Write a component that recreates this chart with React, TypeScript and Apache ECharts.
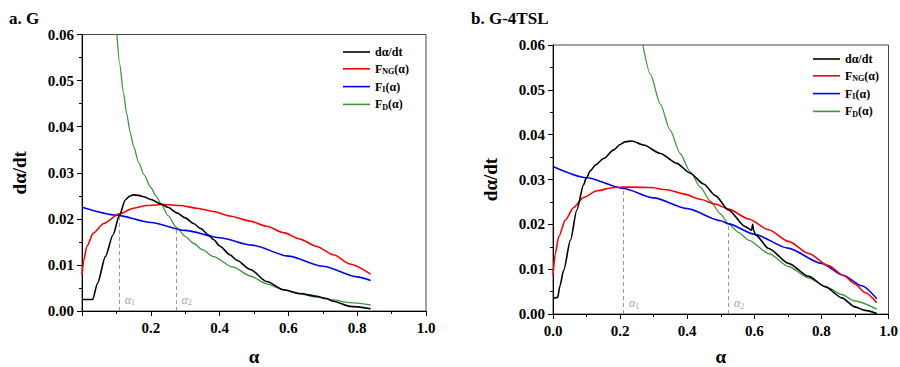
import React, { useEffect, useRef } from "react";
import * as echarts from "echarts";

const FONT = '"Liberation Serif", "Times New Roman", serif';

// ---------- Panel a. G ----------
const blackA: number[][] = [
  [0, 0.0025], [0.031, 0.0025], [0.045, 0.006], [0.068, 0.0118], [0.09, 0.0165], [0.109, 0.0208],
  [0.126, 0.0241], [0.138, 0.0249], [0.15, 0.0252], [0.165, 0.0251], [0.179, 0.0248], [0.2, 0.0242],
  [0.23, 0.0232], [0.25, 0.0225], [0.276, 0.0213], [0.3, 0.0202], [0.324, 0.019], [0.345, 0.0179],
  [0.368, 0.0165], [0.382, 0.0155], [0.402, 0.014], [0.43, 0.0122], [0.45, 0.011], [0.489, 0.009],
  [0.537, 0.0064], [0.586, 0.0046], [0.634, 0.0038], [0.682, 0.0032], [0.71, 0.0027], [0.731, 0.0021],
  [0.779, 0.001], [0.839, 0.0005],
];
const redA: number[][] = [
  [0, 0.0078], [0.005, 0.011], [0.014, 0.014], [0.033, 0.0169], [0.063, 0.019], [0.109, 0.0211],
  [0.15, 0.0223], [0.189, 0.0229], [0.237, 0.0231], [0.285, 0.0229], [0.334, 0.0223], [0.382, 0.0216],
  [0.43, 0.0206], [0.489, 0.0195], [0.537, 0.0184], [0.586, 0.017], [0.634, 0.0156], [0.682, 0.014],
  [0.731, 0.0122], [0.779, 0.0102], [0.839, 0.008],
];
const blueA: number[][] = [
  [0, 0.0225], [0.1, 0.0208], [0.2, 0.0192], [0.3, 0.0175], [0.4, 0.0159], [0.494, 0.0143],
  [0.6, 0.0119], [0.7, 0.0097], [0.8, 0.0074], [0.839, 0.0066],
];
const greenA: number[][] = [
  [0.1016, 0.06], [0.11, 0.0535], [0.12, 0.0475], [0.13, 0.0428], [0.14, 0.0388], [0.15, 0.0357],
  [0.165, 0.0322], [0.18, 0.0296], [0.2, 0.0268], [0.215, 0.025], [0.23, 0.0232], [0.25, 0.0207],
  [0.274, 0.0182], [0.3, 0.0162], [0.324, 0.0147], [0.35, 0.0133], [0.382, 0.0118], [0.44, 0.0095],
  [0.489, 0.0076], [0.537, 0.0059], [0.586, 0.0046], [0.634, 0.0037], [0.682, 0.003], [0.731, 0.0024],
  [0.779, 0.0018], [0.839, 0.0013],
];
const alphaMarksA: number[][] = [[0.108, 0.0209], [0.273, 0.018]];

// ---------- Panel b. G-4TSL ----------
const blackB: number[][] = [
  [0, 0.0035], [0.014, 0.0037], [0.02, 0.0061], [0.032, 0.0098], [0.052, 0.0165], [0.071, 0.0232],
  [0.091, 0.0288], [0.099, 0.0303], [0.112, 0.032], [0.126, 0.0332], [0.151, 0.0347], [0.181, 0.0366],
  [0.2, 0.0378], [0.215, 0.0384], [0.235, 0.0386], [0.27, 0.0377], [0.32, 0.0358], [0.369, 0.0336],
  [0.409, 0.0314], [0.449, 0.029], [0.484, 0.0264], [0.523, 0.0232], [0.573, 0.0195], [0.592, 0.0187],
  [0.595, 0.02], [0.598, 0.0187], [0.603, 0.0177], [0.643, 0.0146], [0.702, 0.0113], [0.762, 0.0084],
  [0.811, 0.0061], [0.861, 0.0036], [0.9, 0.0016], [0.93, 0.0008], [0.965, 0.0001],
];
const redB: number[][] = [
  [0, 0.0087], [0.007, 0.0135], [0.017, 0.0172], [0.037, 0.021], [0.061, 0.0237], [0.091, 0.026],
  [0.131, 0.0275], [0.181, 0.0282], [0.21, 0.0283], [0.24, 0.0283], [0.29, 0.0282], [0.34, 0.0277],
  [0.389, 0.0268], [0.439, 0.0256], [0.484, 0.0245], [0.523, 0.0234], [0.583, 0.0212], [0.643, 0.0188],
  [0.702, 0.0162], [0.762, 0.0135], [0.821, 0.0108], [0.866, 0.0086], [0.9, 0.0067], [0.93, 0.0048],
  [0.965, 0.0025],
];
const blueB: number[][] = [
  [0, 0.0329], [0.1, 0.0304], [0.21, 0.028], [0.3, 0.0259], [0.4, 0.0235], [0.5, 0.0208],
  [0.523, 0.0201], [0.6, 0.0178], [0.7, 0.0147], [0.8, 0.0113], [0.866, 0.0086], [0.92, 0.0063],
  [0.965, 0.0034],
];
const greenB: number[][] = [
  [0.268, 0.06], [0.29, 0.0535], [0.32, 0.0468], [0.349, 0.041], [0.379, 0.0358], [0.409, 0.0317],
  [0.439, 0.0283], [0.469, 0.0252], [0.498, 0.0224], [0.523, 0.0201], [0.553, 0.0182], [0.583, 0.0165],
  [0.643, 0.0135], [0.702, 0.0106], [0.762, 0.008], [0.821, 0.0058], [0.858, 0.0044], [0.9, 0.0029],
  [0.965, 0.0011],
];
const alphaMarksB: number[][] = [[0.21, 0.0282], [0.523, 0.0201]];

const seriesNames = ["dα/dt", "FNG(α)", "FI(α)", "FD(α)"];
const seriesColors = ["#000000", "#ff0000", "#0000ff", "#3a9a3a"];
const legendRich: Record<string, string> = {
  "dα/dt": "{m|dα/dt}",
  "FNG(α)": "{m|F}{s|NG}{m|(α)}",
  "FI(α)": "{m|F}{s|I}{m|(α)}",
  "FD(α)": "{m|F}{s|D}{m|(α)}",
};
const titles = ["a. G", "b. G-4TSL"];
const alphaLabelY = 0.0024;

function makeX(idx: number, showMin: boolean, gap: number) {
  return {
    type: "value", gridIndex: idx, min: 0, max: 1, interval: 0.2,
    axisLine: { show: true, onZero: false, lineStyle: { color: "#000", width: 1 } },
    axisTick: { show: true, inside: false, length: 5, lineStyle: { color: "#000" } },
    minorTick: { show: true, splitNumber: 2, length: 3, lineStyle: { color: "#000" } },
    splitLine: { show: false },
    axisLabel: {
      fontFamily: FONT, fontWeight: "bold", fontSize: 15, color: "#000", margin: 9,
      showMinLabel: showMin, formatter: (v: number) => v.toFixed(1),
    },
    name: "α", nameLocation: "middle", nameGap: gap,
    nameTextStyle: { fontFamily: FONT, fontWeight: "bold", fontSize: 19, lineHeight: 18, color: "#000" },
  };
}
function makeY(idx: number) {
  return {
    type: "value", gridIndex: idx, min: 0, max: 0.06, interval: 0.01,
    axisLine: { show: true, onZero: false, lineStyle: { color: "#000", width: 1 } },
    axisTick: { show: true, inside: false, length: 5, lineStyle: { color: "#000" } },
    minorTick: { show: true, splitNumber: 2, length: 3, lineStyle: { color: "#000" } },
    splitLine: { show: false },
    axisLabel: {
      fontFamily: FONT, fontWeight: "bold", fontSize: 15, color: "#000", margin: 8,
      formatter: (v: number) => v.toFixed(2),
    },
    name: "dα/dt", nameLocation: "middle", nameGap: 53, nameRotate: 90,
    nameTextStyle: { fontFamily: FONT, fontWeight: "bold", fontSize: 19, color: "#000" },
  };
}
function makeSeries(idx: number, sets: number[][][], marks: number[][]) {
  const out: any[] = sets.map((d, i) => ({
    type: "line", name: seriesNames[i], xAxisIndex: idx, yAxisIndex: idx, data: d,
    symbol: "none", showSymbol: false, smooth: 0.25, smoothMonotone: "x", z: 3 + (4 - i),
    lineStyle: { color: seriesColors[i], width: i === 3 ? 1.3 : 1.6 },
    itemStyle: { color: seriesColors[i] },
  }));
  out.push({
    type: "line", name: "alphaLines", xAxisIndex: idx, yAxisIndex: idx, data: [], symbol: "none",
    markLine: {
      silent: true, symbol: "none", label: { show: false },
      lineStyle: { type: [4, 3], color: "#9a9a9a", width: 1 },
      data: marks.map((m) => [{ coord: [m[0], 0] }, { coord: [m[0], m[1]] }]),
    },
  });
  out.push({
    type: "scatter", name: "alphaLabels", xAxisIndex: idx, yAxisIndex: idx, symbolSize: 1,
    itemStyle: { color: "rgba(0,0,0,0)" },
    data: marks.map((m) => [m[0], alphaLabelY]),
    label: {
      show: true, position: "right", distance: 5,
      formatter: (p: any) => `{a|α}{s|${p.dataIndex + 1}}`,
      rich: {
        a: { fontFamily: FONT, fontStyle: "italic", fontSize: 12, color: "#8a8a8a", lineHeight: 14 },
        s: { fontFamily: FONT, fontSize: 8, color: "#8a8a8a", padding: [6, 0, 0, 0] },
      },
    },
  });
  return out;
}
function makeLegend(left: number, top: number) {
  return {
    show: true, orient: "vertical", left, top, itemWidth: 27, itemHeight: 1.6, itemGap: 4.8,
    icon: "rect", selectedMode: false, data: seriesNames, padding: 0,
    formatter: (name: string) => legendRich[name] || name,
    textStyle: {
      rich: {
        m: { fontFamily: FONT, fontWeight: "bold", fontSize: 12, color: "#000", lineHeight: 14 },
        s: { fontFamily: FONT, fontWeight: "bold", fontSize: 8, color: "#000", padding: [6, 0, 0, 0] },
      },
    },
  };
}

export default function App() {
  const ref = useRef<HTMLDivElement>(null);
  useEffect(() => {
    if (!ref.current) return;
    const chart = echarts.init(ref.current, null, { renderer: "svg" });
    chart.setOption({
      animation: false,
      backgroundColor: "#fff",
      title: [
        { text: titles[0], left: 4, top: 5, textStyle: { fontFamily: FONT, fontWeight: "bold", fontSize: 17, color: "#000" } },
        { text: titles[1], left: 466, top: 5, textStyle: { fontFamily: FONT, fontWeight: "bold", fontSize: 17, color: "#000" } },
      ],
      grid: [
        { left: 82, top: 34.5, width: 344, height: 276.5, show: true, borderColor: "#444", borderWidth: 1, backgroundColor: "transparent", outerBoundsMode: "none", containLabel: false },
        { left: 553, top: 45, width: 335.5, height: 269, show: true, borderColor: "#444", borderWidth: 1, backgroundColor: "transparent", outerBoundsMode: "none", containLabel: false },
      ],
      xAxis: [makeX(0, false, 36), makeX(1, true, 33)],
      yAxis: [makeY(0), makeY(1)],
      legend: [makeLegend(343, 46), makeLegend(813, 53)],
      series: [
        ...makeSeries(0, [blackA, redA, blueA, greenA], alphaMarksA),
        ...makeSeries(1, [blackB, redB, blueB, greenB], alphaMarksB),
      ],
    });
    return () => chart.dispose();
  }, []);
  return (
    <div
      ref={ref}
      style={{ position: "absolute", left: 0, top: 0, width: 900, height: 367 }}
    />
  );
}
